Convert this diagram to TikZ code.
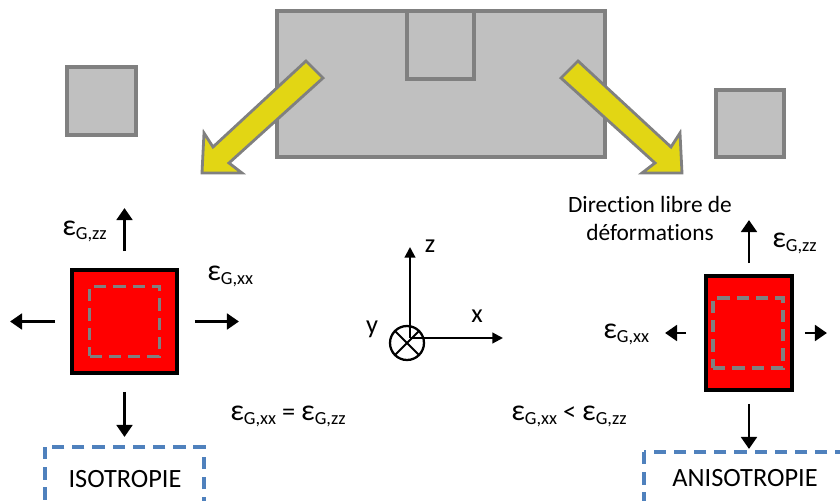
\documentclass[tikz,border=0pt]{standalone}
\usepackage{fontspec}
\setmainfont[Ligatures=NoCommon]{Carlito}
\usepackage{xcolor}
\definecolor{boxgrey}{RGB}{192,192,192}
\definecolor{edgegrey}{RGB}{128,128,128}
\definecolor{arrowyellow}{RGB}{226,214,20}
\definecolor{dashblue}{RGB}{79,129,189}
\usetikzlibrary{arrows.meta,calc,positioning}
\newcommand{\epsG}[1]{{\fontsize{17}{17}\selectfont ε}\raisebox{-0.35ex}{\fontsize{10.5}{12}\selectfont G,#1}}

\begin{document}
\begin{tikzpicture}[
  x=0.02cm, y=-0.02cm,
  grain/.style={draw=edgegrey, fill=boxgrey, line width=2pt},
  flow/.style={draw=edgegrey, fill=arrowyellow, line width=1.6pt, line join=miter},
  sample/.style={rectangle, draw=black, fill=red, line width=2.2pt, inner sep=0pt},
  core/.style={rectangle, draw=edgegrey, dash pattern=on 7pt off 4pt,
               line width=1.8pt, minimum size=1.4cm, inner sep=0pt},
  force/.style={line width=1.4pt, -{Triangle[length=6.8pt,width=9pt]}},
  axis/.style={line width=1.2pt, -{Triangle[length=6pt,width=6pt]}},
  typebox/.style={draw=dashblue, dash pattern=on 7pt off 4.5pt, line width=1.8pt},
  lab/.style={font=\fontsize{15}{18}\selectfont, inner sep=0pt}
]
  \useasboundingbox (0,0) rectangle (840,501);
  % Grains (top)
  \draw[grain] (67,67) rectangle (136,135);
  \draw[grain] (277,11) rectangle (605,157);
  \draw[grain] (407,11) rectangle (474,79);
  \draw[grain] (716,90) rectangle (784,157);
  % Yellow arrows
  \draw[flow] (306,61) -- (213,147) -- (204,133) -- (202,173) -- (242,173)
              -- (229,163) -- (323,78) -- cycle;
  \draw[flow] (578,61) -- (671,147) -- (680,133) -- (682,173) -- (642,173)
              -- (655,163) -- (561,78) -- cycle;
  % Isotropic sample
  \node[sample, minimum width=2.1cm, minimum height=2.06cm] (iso) at (124.5,321.5) {};
  \node[core] (isocore) at (iso) {};
  \draw[force] ($(iso.north)+(0,-17)$) -- ++(0,-43);
  \draw[force] ($(iso.east)+(16,0)$) -- ++(44,0);
  \draw[force] ($(iso.west)+(-15,0)$) -- ++(-45,0);
  \draw[force] ($(iso.south)+(0,17)$) -- ++(0,45);
  \node[lab, anchor=base west] (isozz) at (62,235) {\epsG{zz}};
  \node[lab, anchor=base west] (isoxx) at (207,280) {\epsG{xx}};
  \node[lab, anchor=base west] (isoeq) at (230,420) {\epsG{xx} = \epsG{zz}};
  % Anisotropic sample
  \node[sample, minimum width=1.72cm, minimum height=2.28cm] (aniso) at (749,333) {};
  \node[core] (anisocore) at (748,333) {};
  \draw[force] ($(aniso.north)+(0,-11)$) -- ++(0,-43);
  \draw[force] ($(aniso.west)+(-18,0)$) -- ++(-21,0);
  \draw[force] ($(aniso.east)+(11,0)$) -- ++(22,0);
  \draw[force] ($(aniso.south)+(0,12)$) -- ++(0,45);
  \node[lab, anchor=base west] (anizz) at (772,247) {\epsG{zz}};
  \node[lab, anchor=base west] (anixx) at (603,338) {\epsG{xx}};
  \node[lab, anchor=base west] (anieq) at (511,420) {\epsG{xx} < \epsG{zz}};
  \node[font=\fontsize{13.3}{15.9}\selectfont, align=center, anchor=base]
       (libre) at (650,240) {Direction libre de\\déformations};
  % Axes
  \coordinate (O) at (410,338);
  \node[circle, draw, line width=1.3pt, minimum size=0.68cm, inner sep=0pt,
        outer sep=0pt] (yax) at (407,343) {};
  \draw[line width=1.2pt] (yax.north west) -- (yax.south east)
                          (yax.north east) -- (yax.south west);
  \coordinate (zend) at (410,247);
  \coordinate (xend) at (503,338);
  \draw[axis] (O) -- (zend);
  \draw[axis] (O) -- (xend);
  \node[lab, anchor=base] (zlab) at (430,252) {z};
  \node[lab, anchor=base] (xlab) at (477,322) {x};
  \node[lab, anchor=base] (ylab) at (372,333) {y};
  % Type frames
  \draw[typebox] (45,447) rectangle (204,530);
  \node[lab, anchor=base] (isotxt) at (125,487) {ISOTROPIE};
  \draw[typebox] (644,452) rectangle (880,530);
  \node[lab, anchor=base] (anisotxt) at (745,486) {ANISOTROPIE};
\end{tikzpicture}
\end{document}
